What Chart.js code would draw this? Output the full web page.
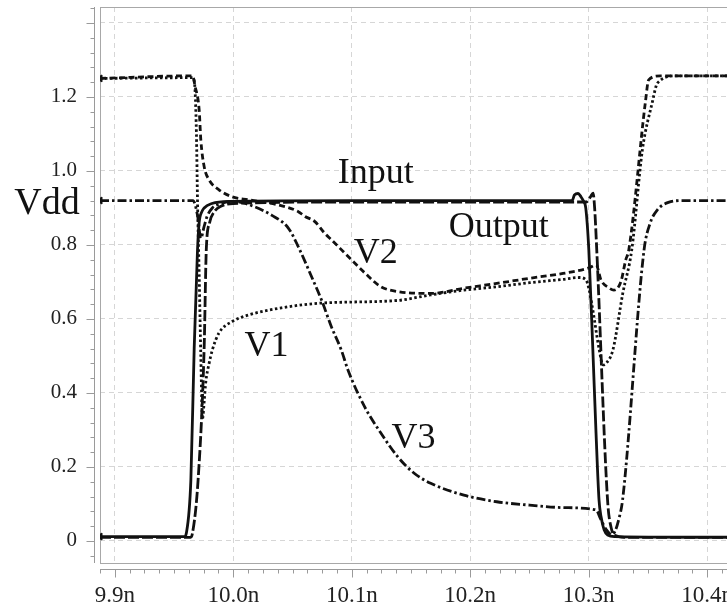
<!DOCTYPE html>
<html>
<head>
<meta charset="utf-8">
<script src="https://cdn.jsdelivr.net/npm/chart.js@4.4.1/dist/chart.umd.min.js"></script>
<style>
  html, body { margin: 0; padding: 0; background: #fff; overflow: hidden; }
  #wrap { width: 745px; height: 609px; }
</style>
</head>
<body>
<div id="wrap"><canvas id="waveChart" width="745" height="609"></canvas></div>
<script>
// time axis in ns, voltages in V
const xTicks = [9.9, 10.0, 10.1, 10.2, 10.3, 10.4];
const yTicks = [0, 0.2, 0.4, 0.6, 0.8, 1.0, 1.2, 1.4];

const inputT = [9.8875, 9.959, 9.9603, 9.9642, 9.967, 9.9698, 9.9712, 9.9735, 9.9754, 9.982, 9.996, 10.1, 10.2, 10.286, 10.288, 10.291, 10.2935, 10.2955, 10.2975, 10.3001, 10.3035, 10.3062, 10.3087, 10.3104, 10.313, 10.316, 10.322, 10.43];
const inputV = [0.012, 0.012, 0.02, 0.165, 0.52, 0.786, 0.86, 0.89, 0.9, 0.912, 0.918, 0.92, 0.92, 0.92, 0.935, 0.939, 0.93, 0.919, 0.9, 0.786, 0.516, 0.29, 0.111, 0.066, 0.03, 0.016, 0.012, 0.01];

const outputT = [9.8875, 9.964, 9.9655, 9.9703, 9.9754, 9.9772, 9.98, 9.984, 9.99, 10.0, 10.1, 10.2, 10.298, 10.3015, 10.3037, 10.305, 10.3068, 10.3159, 10.319, 10.3225, 10.33, 10.43];
const outputV = [0.01, 0.01, 0.02, 0.165, 0.52, 0.786, 0.86, 0.89, 0.905, 0.912, 0.916, 0.916, 0.916, 0.93, 0.94, 0.9, 0.786, 0.111, 0.035, 0.015, 0.01, 0.01];

const v1T = [9.8875, 9.9656, 9.9672, 9.9689, 9.9698, 9.9712, 9.9726, 9.974, 9.9755, 9.9768, 9.9796, 9.9823, 9.9879, 9.9991, 10.0131, 10.0407, 10.0745, 10.1387, 10.1666, 10.1946, 10.2224, 10.2503, 10.2783, 10.292, 10.2978, 10.3003, 10.3037, 10.3087, 10.3121, 10.3146, 10.3204, 10.3288, 10.3363, 10.3453, 10.354, 10.357, 10.3606, 10.367, 10.375, 10.43];
const v1V = [1.25, 1.252, 1.24, 1.10, 0.92, 0.72, 0.5, 0.33, 0.38, 0.43, 0.48, 0.516, 0.562, 0.593, 0.611, 0.63, 0.643, 0.65, 0.665, 0.678, 0.687, 0.698, 0.707, 0.712, 0.705, 0.68, 0.62, 0.52, 0.476, 0.48, 0.516, 0.67, 0.786, 1.057, 1.19, 1.23, 1.245, 1.255, 1.257, 1.257];

const v2T = [9.8875, 9.9656, 9.9678, 9.9712, 9.9726, 9.9754, 9.9796, 9.9879, 9.9991, 10.0131, 10.0382, 10.0549, 10.0606, 10.0689, 10.0773, 10.0828, 10.0941, 10.1108, 10.1247, 10.1387, 10.1666, 10.1946, 10.2224, 10.2503, 10.2783, 10.3003, 10.3062, 10.3104, 10.3171, 10.3213, 10.3271, 10.3313, 10.3338, 10.348, 10.3506, 10.3606, 10.43];
const v2V = [1.25, 1.257, 1.228, 1.165, 1.084, 1.012, 0.976, 0.949, 0.93, 0.922, 0.908, 0.89, 0.877, 0.863, 0.831, 0.814, 0.778, 0.725, 0.687, 0.674, 0.669, 0.683, 0.696, 0.71, 0.723, 0.738, 0.746, 0.705, 0.684, 0.678, 0.70, 0.76, 0.786, 1.19, 1.246, 1.257, 1.257];

const v3T = [9.8875, 9.966, 9.9698, 9.9726, 9.9754, 9.9779, 9.9823, 9.9879, 10.0, 10.0103, 10.0326, 10.0466, 10.0549, 10.0661, 10.0745, 10.0828, 10.0912, 10.0968, 10.1108, 10.1247, 10.1387, 10.1527, 10.1666, 10.1946, 10.2224, 10.25, 10.28, 10.3062, 10.31, 10.315, 10.319, 10.322, 10.3255, 10.3286, 10.3467, 10.352, 10.358, 10.3673, 10.38, 10.43];
const v3V = [0.92, 0.92, 0.88, 0.818, 0.85, 0.877, 0.9, 0.91, 0.918, 0.912, 0.88, 0.845, 0.795, 0.714, 0.651, 0.579, 0.516, 0.462, 0.363, 0.291, 0.228, 0.183, 0.156, 0.124, 0.106, 0.097, 0.09, 0.084, 0.06, 0.03, 0.018, 0.025, 0.06, 0.111, 0.786, 0.86, 0.895, 0.915, 0.92, 0.92];

const X_MIN = 9.8875, X_MAX = 10.4277;
const Y_MIN = -0.0595, Y_MAX = 1.443;

const ink = '#111';
const serif = '"Liberation Serif", "Times New Roman", serif';

function pts(ts, vs) {
  return ts.map((t, i) => ({ x: t, y: vs[i] }));
}

function trace(label, ts, vs, dash, startMark) {
  return {
    label: label,
    data: pts(ts, vs),
    borderColor: ink,
    backgroundColor: ink,
    borderWidth: 2.8,
    borderDash: dash,
    borderCapStyle: 'butt',
    borderJoinStyle: 'round',
    // small arrow head where the trace enters the plot
    pointStyle: 'triangle',
    rotation: 270,
    pointRadius: ctx => (startMark && ctx.dataIndex === 0 ? 4 : 0),
    pointBorderWidth: 1,
    cubicInterpolationMode: 'monotone',
    fill: false,
  };
}

// names written next to the curves, placed in data units
const curveLabels = [
  { text: 'Input', t: 10.1203, v: 0.9676 },
  { text: 'Output', t: 10.2241, v: 0.8216 },
  { text: 'V2', t: 10.1203, v: 0.751 },
  { text: 'V1', t: 10.0281, v: 0.50 },
  { text: 'V3', t: 10.1521, v: 0.251 },
];

const frameAndTicks = {
  id: 'frameAndTicks',
  beforeDatasetsDraw(chart) {
    const { ctx, chartArea: a } = chart;
    ctx.save();
    ctx.strokeStyle = '#a8a8a8';
    ctx.lineWidth = 1;
    ctx.strokeRect(a.left + 0.5, a.top + 0.5, a.right - a.left, a.bottom - a.top);
    ctx.restore();
  },
  afterDraw(chart) {
    const { ctx, chartArea: a, scales } = chart;
    const x = scales.x, y = scales.y;
    ctx.save();
    ctx.strokeStyle = '#9a9a9a';
    ctx.lineWidth = 1;
    ctx.beginPath();
    // tick rail left of the plot
    const rx = a.left - 5.5;
    ctx.moveTo(rx, a.top);
    ctx.lineTo(rx, a.bottom);
    for (let i = -1; i <= 36; i++) {
      const v = i * 0.04;
      if (v < Y_MIN || v > Y_MAX) continue;
      const py = Math.round(y.getPixelForValue(v)) + 0.5;
      const len = i % 5 === 0 ? 8 : 4;
      ctx.moveTo(rx - len, py);
      ctx.lineTo(rx, py);
    }
    // tick rail under the plot
    const ry = a.bottom + 6.5;
    ctx.moveTo(a.left, ry);
    ctx.lineTo(a.right, ry);
    for (let i = 0; ; i++) {
      const t = X_MIN + i * 0.0125;
      if (t > X_MAX) break;
      const px = Math.round(x.getPixelForValue(t)) + 0.5;
      const len = (i - 1) % 8 === 0 ? 8 : 4;
      ctx.moveTo(px, ry);
      ctx.lineTo(px, ry + len);
    }
    ctx.stroke();

    ctx.fillStyle = ink;
    ctx.textAlign = 'center';
    ctx.textBaseline = 'alphabetic';
    ctx.font = '36px ' + serif;
    curveLabels.forEach(l => {
      ctx.fillText(l.text, x.getPixelForValue(l.t), y.getPixelForValue(l.v));
    });
    ctx.font = '38px ' + serif;
    ctx.fillText('Vdd', a.left - 53, y.getPixelForValue(0.92) + 13);
    ctx.restore();
  }
};

const grid = {
  color: '#d6d6d6',
  lineWidth: 1,
  drawTicks: false,
};

new Chart(document.getElementById('waveChart'), {
  type: 'line',
  data: {
    datasets: [
      trace('Input', inputT, inputV, [], true),
      trace('Output', outputT, outputV, [11, 3], false),
      trace('V1', v1T, v1V, [2.5, 2.5], false),
      trace('V2', v2T, v2V, [6, 3.5], true),
      trace('V3', v3T, v3V, [9, 3, 2.5, 3], true),
    ],
  },
  options: {
    responsive: false,
    animation: false,
    layout: { padding: { top: 7, left: 0, right: 0, bottom: 0 } },
    plugins: {
      legend: { display: false },
      tooltip: { enabled: false },
    },
    scales: {
      x: {
        type: 'linear',
        min: X_MIN,
        max: X_MAX,
        afterBuildTicks: s => { s.ticks = xTicks.map(v => ({ value: v })); },
        afterFit: s => { s.height = 46; s.paddingLeft = 0; s.paddingRight = 0; },
        border: { display: false, dash: [5, 4] },
        grid: grid,
        ticks: {
          padding: 19,
          color: '#222',
          maxRotation: 0,
          font: { family: serif, size: 23 },
          callback: v => v.toFixed(1) + 'n',
        },
      },
      y: {
        type: 'linear',
        min: Y_MIN,
        max: Y_MAX,
        afterBuildTicks: s => { s.ticks = yTicks.map(v => ({ value: v })); },
        afterFit: s => { s.width = 100; s.paddingTop = 0; s.paddingBottom = 0; },
        border: { display: false, dash: [5, 4] },
        grid: grid,
        ticks: {
          padding: 23,
          color: '#222',
          font: { family: serif, size: 21 },
          callback: v => (v === 0 ? '0' : v > 1.3 ? '' : v.toFixed(1)),
        },
      },
    },
  },
  plugins: [frameAndTicks],
});
</script>
</body>
</html>
